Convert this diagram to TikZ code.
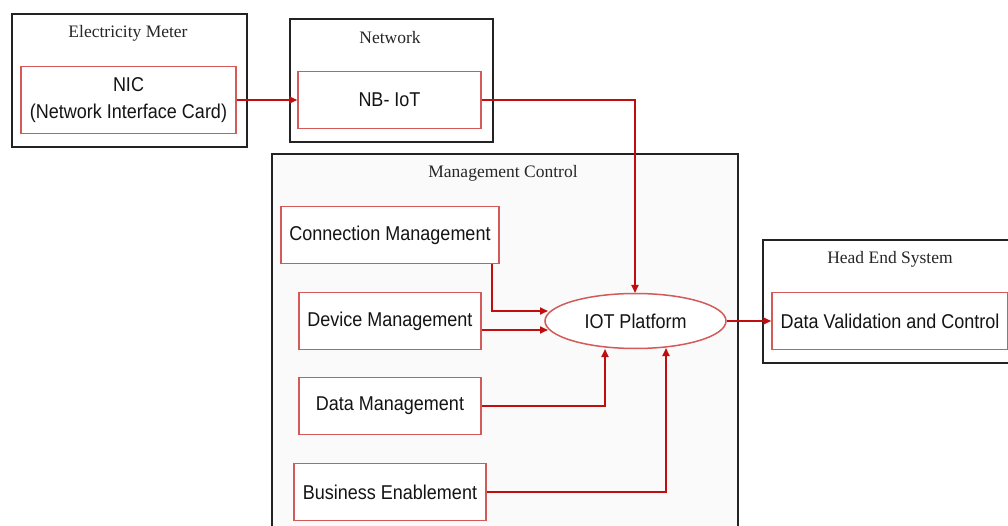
\documentclass[tikz,border=0pt]{standalone}
\usepackage{fontspec}
\setmainfont{Liberation Serif}
\newfontfamily\boxfont[FakeStretch=0.9]{Liberation Sans}
\usetikzlibrary{arrows.meta,shapes.geometric}
\definecolor{boxred}{RGB}{212,90,90}
\definecolor{arrred}{RGB}{192,14,14}
\definecolor{outline}{RGB}{35,35,35}
\tikzset{
  group/.style={draw=outline,line width=1.7pt,fill=white,anchor=north west,inner sep=0pt},
  grouptitle/.style={font=\fontsize{17.5}{19}\selectfont,inner sep=0pt,text=black!85},
  redbox/.style={draw=boxred,line width=1.5pt,fill=white,inner sep=0pt,font=\boxfont\fontsize{20}{22}\selectfont,align=center,text=black!92},
  conn/.style={draw=arrred,line width=1.8pt,-{Triangle[length=8pt,width=7pt]}},
}
\begin{document}
\begin{tikzpicture}[x=1pt,y=-1pt]
\useasboundingbox (0,0) rectangle (1008,526);
\fill[white] (0,0) rectangle (1008,526);
% group frames
\node[group,minimum width=235pt,minimum height=133pt] (gem) at (11,13) {};
\node[group,minimum width=203pt,minimum height=123pt] (gnet) at (289,18) {};
\node[group,minimum width=466pt,minimum height=390pt,fill=black!2] (gmc) at (271,153) {};
\node[group,minimum width=260pt,minimum height=123pt] (ghe) at (762,239) {};
% titles
\node[grouptitle] (tem) at (128,33) {Electricity Meter};
\node[grouptitle] (tnet) at (390,38) {Network};
\node[grouptitle] (tmc) at (503,173) {Management Control};
\node[grouptitle] (the) at (890,259) {Head End System};
% boxes
\node[redbox,minimum width=215pt,minimum height=67pt] (nic) at (128.5,100) {NIC\\[5pt](Network Interface Card)};
\node[redbox,minimum width=183pt,minimum height=57pt] (nb) at (389.5,100) {NB- IoT};
\node[redbox,minimum width=218pt,minimum height=57pt] (cm) at (390,235) {Connection Management};
\node[redbox,minimum width=182pt,minimum height=57pt] (dm) at (390,321) {Device Management};
\node[redbox,minimum width=182pt,minimum height=57pt] (dam) at (390,406) {Data Management};
\node[redbox,minimum width=192pt,minimum height=57pt] (be) at (390,492) {Business Enablement};
\node[redbox,ellipse,minimum width=181pt,minimum height=55pt] (iot) at (635.5,321) {IOT Platform};
\node[redbox,minimum width=236pt,minimum height=57pt] (dvc) at (890,321) {Data Validation and Control};
% connectors
\draw[conn] (nic.east) -- (nb.west);
\draw[conn] (nb.east) -| (635,293);
\coordinate (cmto) at (548,311);
\draw[conn] (cm.south -| 492,0) |- (cmto);
\coordinate (dmto) at (548,330);
\draw[conn] (dm.east |- dmto) -- (dmto);
\coordinate (damto) at (605,349);
\draw[conn] (dam.east) -| (damto);
\coordinate (beto) at (666,348);
\draw[conn] (be.east) -| (beto);
\draw[conn] (iot.east) -- (dvc.west);
\end{tikzpicture}
\end{document}
